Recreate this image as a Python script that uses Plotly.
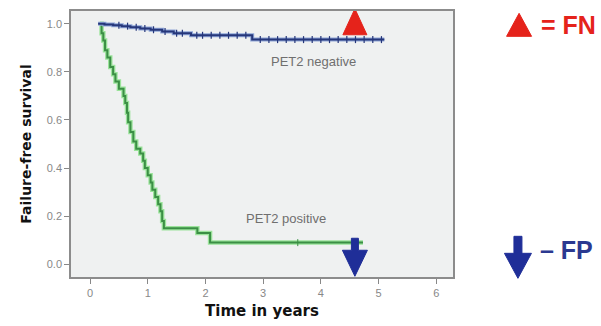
import numpy as np
import plotly.graph_objects as go

# ---- data ----
neg_time = [0.14, 0.25, 0.40, 0.55, 0.70, 0.87, 1.05, 1.25, 1.45, 1.75, 2.81, 5.10]
neg_surv = [1.0, 0.997, 0.994, 0.99, 0.985, 0.98, 0.975, 0.968, 0.96, 0.952, 0.934, 0.934]
neg_censor = [0.5, 0.65, 0.8, 0.95, 1.1, 1.3, 1.5, 1.6, 1.85, 1.95, 2.1, 2.25, 2.4, 2.55,
              2.7, 2.95, 3.1, 3.25, 3.4, 3.55, 3.7, 3.85, 4.0, 4.15, 4.3, 4.45, 4.6, 4.75, 4.9, 5.05]

pos_time = [0.17, 0.20, 0.23, 0.26, 0.30, 0.35, 0.40, 0.44, 0.50, 0.58, 0.61, 0.64, 0.66, 0.70,
            0.75, 0.80, 0.87, 0.92, 0.95, 1.00, 1.05, 1.08, 1.13, 1.18, 1.22, 1.25, 1.28, 1.86,
            2.08, 4.73]
pos_surv = [1.00, 0.96, 0.93, 0.89, 0.86, 0.82, 0.79, 0.76, 0.73, 0.70, 0.67, 0.63, 0.59, 0.55,
            0.51, 0.48, 0.46, 0.43, 0.40, 0.37, 0.34, 0.31, 0.28, 0.25, 0.22, 0.18, 0.15, 0.13,
            0.09, 0.09]
pos_censor = [3.6]

fn_time = [4.59]
fn_value = [1.0]
fp_time = [4.59]
fp_value = [0.0]

x_ticks = [0, 1, 2, 3, 4, 5, 6]
y_ticks = [0.0, 0.2, 0.4, 0.6, 0.8, 1.0]

labels = ["PET2 negative", "PET2 positive"]
label_pos_x = [3.87, 3.4]
label_pos_y = [0.845, 0.19]


def step_value(times, surv, t):
    i = np.searchsorted(times, t, side="right") - 1
    return [surv[max(k, 0)] for k in i]


NAVY = "#26377a"
GREEN_DARK = "#3b8f45"
GREEN_LIGHT = "#9be39b"
RED = "#e5231b"
BLUE = "#1f2e98"

fig = go.Figure()

# PET2 positive (green) with light halo
fig.add_trace(go.Scatter(x=pos_time, y=pos_surv, mode="lines",
                         line=dict(color=GREEN_LIGHT, width=4.5, shape="hv"),
                         hoverinfo="skip", showlegend=False))
fig.add_trace(go.Scatter(x=pos_time, y=pos_surv, mode="lines",
                         line=dict(color=GREEN_DARK, width=2, shape="hv"),
                         showlegend=False))
fig.add_trace(go.Scatter(x=pos_censor, y=step_value(pos_time, pos_surv, pos_censor),
                         mode="markers",
                         marker=dict(symbol="line-ns-open", size=5, color=GREEN_DARK,
                                     line=dict(color=GREEN_DARK, width=1)),
                         showlegend=False))

# PET2 negative (navy)
fig.add_trace(go.Scatter(x=neg_time, y=neg_surv, mode="lines",
                         line=dict(color="#8fa6d8", width=4, shape="hv"),
                         hoverinfo="skip", showlegend=False))
fig.add_trace(go.Scatter(x=neg_time, y=neg_surv, mode="lines",
                         line=dict(color=NAVY, width=2, shape="hv"),
                         showlegend=False))
fig.add_trace(go.Scatter(x=neg_censor, y=step_value(neg_time, neg_surv, neg_censor),
                         mode="markers",
                         marker=dict(symbol="line-ns-open", size=5, color=NAVY,
                                     line=dict(color=NAVY, width=1.2)),
                         showlegend=False))

tri_path = "M-12,-11 L0,15 L12,-11 Z"
arrow_path = "M-3.5,26 L3.5,26 L3.5,14 L12.5,14 L0,-12 L-12.5,14 L-3.5,14 Z"

shapes = []
for t, v in zip(fn_time, fn_value):
    shapes.append(dict(type="path", xref="x", yref="y", xsizemode="pixel", ysizemode="pixel",
                       xanchor=t, yanchor=v, path=tri_path,
                       fillcolor=RED, line=dict(color=RED, width=1)))
for t, v in zip(fp_time, fp_value):
    shapes.append(dict(type="path", xref="x", yref="y", xsizemode="pixel", ysizemode="pixel",
                       xanchor=t, yanchor=v, path=arrow_path,
                       fillcolor=BLUE, line=dict(color=BLUE, width=1)))

# key symbols on the right
shapes.append(dict(type="path", xref="paper", yref="paper", xsizemode="pixel", ysizemode="pixel",
                   xanchor=1.173, yanchor=0.948, path="M-12.5,-11.5 L0,11.5 L12.5,-11.5 Z",
                   fillcolor=RED, line=dict(color=RED, width=1)))
shapes.append(dict(type="path", xref="paper", yref="paper", xsizemode="pixel", ysizemode="pixel",
                   xanchor=1.170, yanchor=0.074,
                   path="M-4,21 L4,21 L4,4 L13.5,4 L0,-21 L-13.5,4 L-4,4 Z",
                   fillcolor=BLUE, line=dict(color=BLUE, width=1)))

annotations = []
for txt, ax_, ay_ in zip(labels, label_pos_x, label_pos_y):
    annotations.append(dict(x=ax_, y=ay_, xref="x", yref="y", text=txt, showarrow=False,
                            font=dict(family="Liberation Sans, Arial", size=13, color="#6f6f6f")))
annotations.append(dict(x=1.226, y=0.948, xref="paper", yref="paper", text="= FN",
                        showarrow=False, xanchor="left", yanchor="middle",
                        font=dict(family="Liberation Sans, Arial", size=25, color=RED, weight="bold")))
annotations.append(dict(x=1.222, y=0.10, xref="paper", yref="paper", text="– FP",
                        showarrow=False, xanchor="left", yanchor="middle",
                        font=dict(family="Liberation Sans, Arial", size=25, color="#2b3990", weight="bold")))

fig.update_layout(
    width=601, height=326,
    margin=dict(l=71, r=148, t=9, b=47),
    paper_bgcolor="white",
    plot_bgcolor="#eff1f1",
    shapes=shapes,
    annotations=annotations,
    showlegend=False,
)
fig.update_xaxes(range=[-0.33, 6.29], tickvals=x_ticks, ticks="outside", ticklen=5,
                 tickcolor="#888", showline=True, mirror=True, linecolor="#8c8c8c", linewidth=1.5,
                 showgrid=False, zeroline=False,
                 tickfont=dict(family="Liberation Sans, Arial", size=11, color="#888"),
                 title=dict(text="Time in years", standoff=8,
                            font=dict(family="DejaVu Sans", size=15, color="#111", weight="bold")))
fig.update_yaxes(range=[-0.053, 1.053], tickvals=y_ticks, tickformat=".1f", ticks="outside",
                 ticklen=5, tickcolor="#888", showline=True, mirror=True, linecolor="#8c8c8c",
                 linewidth=1.5, showgrid=False, zeroline=False,
                 tickfont=dict(family="Liberation Sans, Arial", size=11, color="#888"),
                 title=dict(text="Failure-free survival", standoff=12,
                            font=dict(family="DejaVu Sans", size=14, color="#111", weight="bold")))

fig.write_html("out.html")
